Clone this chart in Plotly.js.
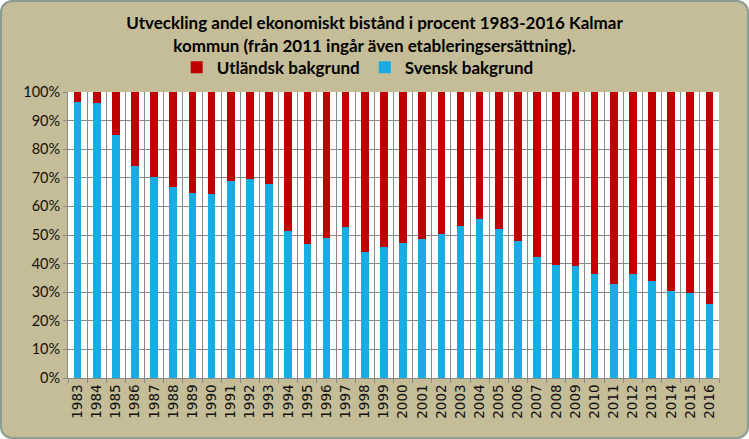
<!DOCTYPE html>
<html>
<head>
<meta charset="utf-8">
<script src="https://cdn.plot.ly/plotly-3.0.1.min.js"></script>
<style>
html,body{margin:0;padding:0;background:#ffffff;}
#wrap{position:absolute;left:0;top:0;width:745px;height:435px;background:#C4BD97;border:2px solid #8C9C94;border-radius:12px;overflow:hidden;}
#chart{width:745px;height:435px;}
</style>
</head>
<body>
<div id="wrap"><div id="chart"></div></div>
<script>
var years = ["1983","1984","1985","1986","1987","1988","1989","1990","1991","1992","1993","1994","1995","1996","1997","1998","1999","2000","2001","2002","2003","2004","2005","2006","2007","2008","2009","2010","2011","2012","2013","2014","2015","2016"];
var svensk = [96.6,96.2,85.1,74.2,70.3,66.8,64.7,64.4,68.9,69.6,67.9,51.4,46.9,49.0,52.9,44.1,45.8,47.3,48.7,50.3,53.1,55.6,52.1,47.8,42.2,39.5,39.2,36.4,32.9,36.4,33.9,30.4,29.7,25.9];
var utlandsk = svensk.map(function(v){ return Math.round((100 - v)*10)/10; });
var yTicks = [0,10,20,30,40,50,60,70,80,90,100];
var yTickText = ["0%","10%","20%","30%","40%","50%","60%","70%","80%","90%","100%"];

var traces = [
  {type:"bar", name:"Svensk bakgrund", x:years, y:svensk, marker:{color:"#18ACE4"}, hoverinfo:"x+y"},
  {type:"bar", name:"Utländsk bakgrund", x:years, y:utlandsk, marker:{color:"#C00000"}, hoverinfo:"x+y"}
];
var layout = {
  width:745, height:435,
  paper_bgcolor:"rgba(0,0,0,0)",
  plot_bgcolor:"#FFFFFF",
  barmode:"stack",
  bargap:0.6,
  margin:{l:66, r:28, t:90, b:59},
  title:{text:"Utveckling andel ekonomiskt bistånd i procent 1983-2016 Kalmar<br>kommun (från 2011 ingår även etableringsersättning).", x:0.5, xanchor:"center", y:0.937, yanchor:"top", font:{family:"Lato", size:17, color:"#000000", weight:"bold"}},
  showlegend:true,
  legend:{orientation:"h", x:0.445, xanchor:"center", y:1.085, yanchor:"middle", traceorder:"reversed", font:{family:"Lato", size:17, color:"#000000", weight:"bold"}, itemwidth:30, tracegroupgap:0, bgcolor:"rgba(0,0,0,0)"},
  xaxis:{type:"category", tickson:"boundaries", showgrid:true, gridcolor:"#8A8A8A", gridwidth:1, ticks:"outside", ticklen:4, tickcolor:"#8A8A8A", showline:true, linecolor:"#8A8A8A", mirror:false, tickangle:-90, tickfont:{family:"DejaVu Sans", size:13.5, color:"#111111"}, fixedrange:true},
  yaxis:{range:[0,100], tickvals:yTicks, ticktext:yTickText, showgrid:true, gridcolor:"#8A8A8A", gridwidth:1, ticks:"outside", ticklen:4, tickcolor:"#8A8A8A", showline:true, linecolor:"#8A8A8A", zeroline:false, tickfont:{family:"Lato", size:14.5, color:"#111111"}, fixedrange:true}
};
Plotly.newPlot("chart", traces, layout, {displayModeBar:false, staticPlot:true});
</script>
</body>
</html>
